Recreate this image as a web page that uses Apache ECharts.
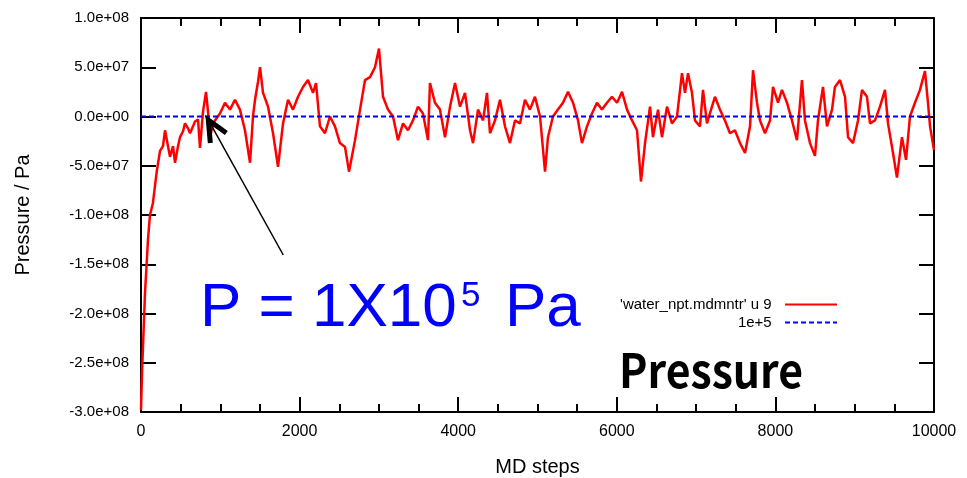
<!DOCTYPE html>
<html><head><meta charset="utf-8">
<script src="https://cdn.jsdelivr.net/npm/echarts@6/dist/echarts.min.js"></script>
<style>html,body{margin:0;padding:0;background:#fff}#c{width:967px;height:478px}</style>
</head><body><div id="c"></div>
<script>
// ---- data ----
const steps = [0,13,50,88,113,150,177,200,240,277,303,340,366,404,429,467,492,530,555,593,618,656,681,719,744,782,820,845,870,908,933,996,1059,1122,1185,1248,1311,1375,1412,1438,1475,1501,1539,1602,1665,1728,1791,1854,1917,1980,2043,2106,2169,2207,2257,2320,2383,2446,2509,2573,2623,2699,2762,2825,2888,2951,3001,3052,3115,3178,3241,3304,3367,3430,3493,3556,3619,3644,3707,3770,3834,3897,3960,4023,4086,4149,4187,4250,4313,4363,4401,4464,4527,4590,4653,4716,4779,4842,4905,4968,5032,5095,5132,5195,5258,5321,5385,5448,5511,5561,5624,5687,5750,5813,5876,5939,6003,6066,6129,6192,6255,6305,6356,6419,6456,6520,6570,6633,6696,6759,6822,6860,6898,6948,6986,7049,7087,7137,7200,7238,7301,7364,7427,7490,7554,7617,7680,7718,7768,7806,7869,7932,7970,8033,8083,8146,8209,8272,8335,8373,8436,8499,8537,8600,8651,8714,8751,8815,8878,8916,8979,9042,9092,9155,9193,9256,9319,9382,9420,9483,9533,9596,9647,9697,9760,9823,9886,9924,9950,10000];
// pressure in units of 1e6 Pa
const pressureMPa = [-298,-260,-180,-125,-100,-88,-70,-55,-35,-30,-14,-30,-41,-30,-47,-30,-21,-15,-7,-12,-17,-10,-5,-3,-32,5,25,5,-21,-8,-4,3,14,7,17,7,-14,-47,0,17,35,50,24,10,-17,-51,-7,17,7,20,30,37,24,34,-10,-17,0,-10,-27,-31,-56,-24,7,37,40,50,69,20,7,0,-24,-7,-14,-4,10,3,-24,34,14,7,-21,10,34,10,24,-14,-27,7,-4,24,-17,-4,17,-10,-27,-4,-7,17,7,20,0,-56,-21,0,7,14,25,14,-4,-27,-10,3,14,7,14,20,14,25,7,-4,-14,-66,-27,10,-21,7,-21,10,-7,0,44,24,44,24,-4,-10,27,-7,10,20,7,-4,-17,-14,-27,-37,-10,47,14,-4,-17,-4,30,14,27,14,-4,-24,37,-4,-27,-40,-4,30,-10,7,30,37,20,-21,-27,-4,27,20,-7,-4,10,27,-7,-37,-62,-21,-44,0,14,27,46,14,-10,-34];
const refSteps = [0, 10000];
const refPressure = [1e5, 1e5];
const seriesNames = ["'water_npt.mdmntr' u 9", "1e+5"];
const arrowTip = [849, -3.5e6];
const arrowTail = [1794, -1.406e8];

function sci(v){
  if (v === 0) return '0.0e+00';
  const s = v < 0 ? '-' : '';
  let a = Math.abs(v);
  let e = Math.floor(Math.log10(a) + 1e-9);
  let m = a / Math.pow(10, e);
  if (m.toFixed(1) === '10.0') { m /= 10; e++; }
  return s + m.toFixed(1) + 'e' + (e < 0 ? '-' : '+') + String(Math.abs(e)).padStart(2, '0');
}

const FONT = 'Liberation Sans, Arial, sans-serif';
const chart = echarts.init(document.getElementById('c'), null, {renderer: 'canvas'});
const axLine = {show: true, onZero: false, lineStyle: {color: '#000', width: 2}};
const mainData = steps.map((s, i) => [s, pressureMPa[i] * 1e6]);
const refData = refSteps.map((s, i) => [s, refPressure[i]]);

chart.setOption({
  animation: false,
  backgroundColor: '#fff',
  grid: {left: 141, right: 33, top: 18, bottom: 66, containLabel: false, outerBoundsMode: 'none'},
  legend: {
    orient: 'vertical', align: 'right', right: 124, top: 292,
    itemWidth: 52, itemHeight: 14, itemGap: 3,
    itemStyle: {opacity: 0},
    formatter: n => n + '  ',
    textStyle: {fontSize: 15, fontFamily: FONT, color: '#000'},
    data: seriesNames
  },
  xAxis: [{
    type: 'value', min: 0, max: 10000, interval: 2000,
    name: 'MD steps', nameLocation: 'middle', nameGap: 45,
    nameTextStyle: {fontSize: 20, fontFamily: FONT, color: '#000'},
    axisLine: axLine,
    axisTick: {inside: true, length: 15, lineStyle: {color: '#000', width: 2}},
    minorTick: {show: true, splitNumber: 4, length: 8, lineStyle: {color: '#000', width: 2}},
    axisLabel: {fontSize: 16, fontFamily: FONT, color: '#000', margin: 12, formatter: v => String(v)},
    splitLine: {show: false}
  }, {
    type: 'value', min: 0, max: 10000, interval: 2000, position: 'top',
    axisLine: axLine,
    axisTick: {inside: true, length: 15, lineStyle: {color: '#000', width: 2}},
    minorTick: {show: true, splitNumber: 4, length: 8, lineStyle: {color: '#000', width: 2}},
    axisLabel: {show: false}, splitLine: {show: false}
  }],
  yAxis: [{
    type: 'value', min: -3e8, max: 1e8, interval: 5e7,
    name: 'Pressure / Pa', nameLocation: 'middle', nameGap: 108,
    nameTextStyle: {fontSize: 20, fontFamily: FONT, color: '#000'},
    axisLine: axLine,
    axisTick: {inside: true, length: 15, lineStyle: {color: '#000', width: 2}},
    axisLabel: {fontSize: 15, fontFamily: FONT, color: '#000', margin: 12, formatter: sci},
    splitLine: {show: false}
  }, {
    type: 'value', min: -3e8, max: 1e8, interval: 5e7, position: 'right',
    axisLine: axLine,
    axisTick: {inside: true, length: 15, lineStyle: {color: '#000', width: 2}},
    axisLabel: {show: false}, splitLine: {show: false}
  }],
  series: [{
    name: seriesNames[0], type: 'line', data: mainData, symbol: 'none',
    lineStyle: {color: '#ff0000', width: 2.5}, itemStyle: {color: '#ff0000'}, z: 2
  }, {
    name: seriesNames[1], type: 'line', data: refData, symbol: 'none',
    lineStyle: {color: '#0000ff', width: 2, type: [5, 3]}, itemStyle: {color: '#0000ff'}, z: 3
  }]
});

const tip = chart.convertToPixel({gridIndex: 0}, arrowTip);
const tail = chart.convertToPixel({gridIndex: 0}, arrowTail);
chart.setOption({
  graphic: [
    {type: 'line', shape: {x1: tail[0], y1: tail[1], x2: tip[0], y2: tip[1]}, style: {stroke: '#000', lineWidth: 1.5}, z: 10},
    {type: 'polyline', shape: {points: [[tip[0] + 18, tip[1] + 13], [tip[0], tip[1]], [tip[0] + 2, tip[1] + 23]]}, style: {stroke: '#000', lineWidth: 5, fill: null, lineJoin: 'miter'}, z: 10},
    {type: 'text', x: 200, y: 309, style: {text: 'P = 1X10', fontSize: 62, fontFamily: FONT, fill: '#0000ff', align: 'left', verticalAlign: 'middle'}, z: 10},
    {type: 'text', x: 461, y: 296, style: {text: '5', fontSize: 35, fontFamily: FONT, fill: '#0000ff', align: 'left', verticalAlign: 'middle'}, z: 10},
    {type: 'text', x: 505, y: 309, style: {text: 'Pa', fontSize: 62, fontFamily: FONT, fill: '#0000ff', align: 'left', verticalAlign: 'middle'}, z: 10},
    {type: 'text', x: 619, y: 370, scaleX: 0.91, style: {text: 'Pressure', fontSize: 47, fontWeight: 'bold', fontFamily: 'Noto Sans CJK JP', fill: '#000', align: 'left', verticalAlign: 'middle'}, z: 10}
  ]
});
</script>
</body></html>
